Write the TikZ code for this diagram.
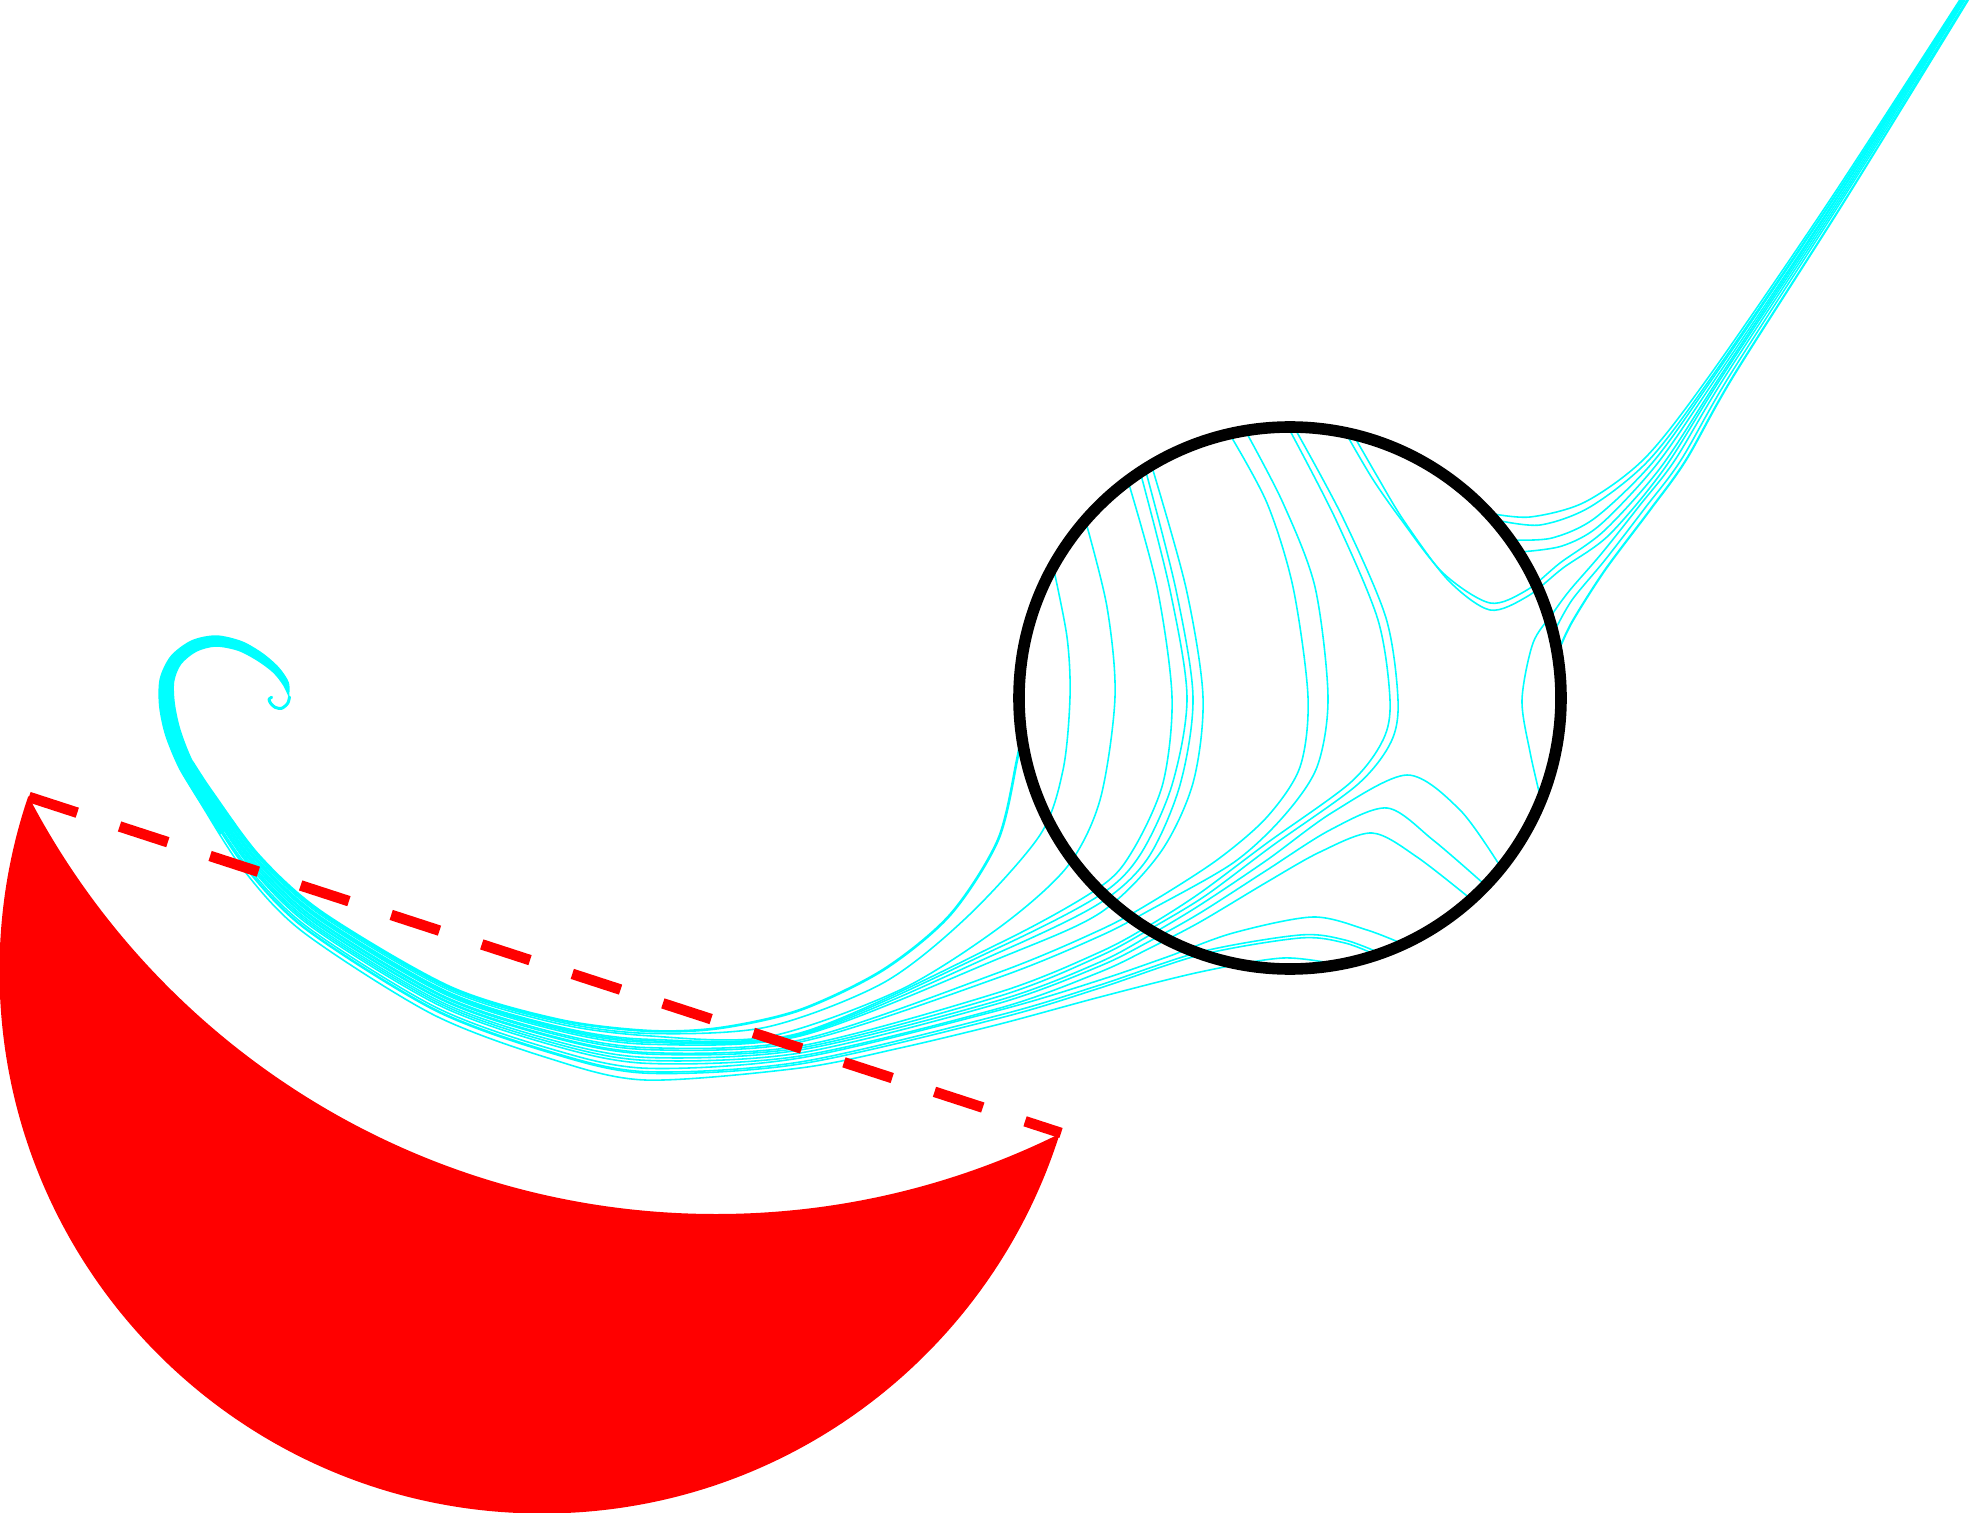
\documentclass[tikz,border=0pt]{standalone}
\usepackage{tikz}
\usetikzlibrary{calc}
\definecolor{flowcyan}{RGB}{0,255,255}
\definecolor{lunered}{RGB}{255,0,0}
\tikzset{
  stream/.style={flowcyan,line width=0.9pt,line cap=round,line join=round},
  thickstream/.style={stream,line width=1.5pt},
  hookstream/.style={stream,line width=1.7pt},
  lunefill/.style={fill=lunered,even odd rule},
  chorddash/.style={lunered,line width=6pt,dash pattern=on 28.9pt off 25.3pt},
  lensring/.style={draw=black,line width=6.6pt}
}
%% one streamline: leaves the spiral band at fraction #2, then runs through #3
\newcommand{\streamfrom}[3][stream]{%
  \draw[#1] plot[smooth] coordinates {($(in11)!#2!(out11)$) ($(in12)!#2!(out12)$)
    ($(in13)!#2!(out13)$) ($(in14)!#2!(out14)$) ($(in15)!#2!(out15)$)
    ($(in16)!#2!(out16)$) ($(in17)!#2!(out17)$) #3};}

\begin{document}
\begin{tikzpicture}[x=0.02cm,y=-0.02cm]
  \useasboundingbox (0,0) rectangle (1971,1513);

  %% red lune
  \coordinate (cornerL) at (29,797);
  \coordinate (cornerR) at (1061,1133);
  \begin{scope}
    \clip (542,971) circle[radius=542.5];
    \fill[lunefill] (-20,-20) rectangle (2000,1600) (716,439.6) circle[radius=774.4];
  \end{scope}

  %% spiral ribbon centre line
  \coordinate (sp1) at (289,698);   \coordinate (sp2) at (286,684);
  \coordinate (sp3) at (276,670);   \coordinate (sp4) at (260,657);
  \coordinate (sp5) at (240,646);   \coordinate (sp6) at (216,641);
  \coordinate (sp7) at (194,646);   \coordinate (sp8) at (176,660);
  \coordinate (sp9) at (167,680);   \coordinate (sp10) at (167,705);
  \coordinate (sp11) at (173,733);  \coordinate (sp12) at (186,765);
  \coordinate (sp13) at (206,797);  \coordinate (sp14) at (228,829);
  \coordinate (sp15) at (251.5,863);

  %% ribbon edges, half width growing away from the hook
  \foreach \k/\h in {2/0.065,3/0.08,4/0.095,5/0.105,6/0.115,7/0.125,8/0.135,
                     9/0.15,10/0.162,11/0.165,12/0.16,13/0.165,14/0.185}{
    \pgfmathtruncatemacro{\kprev}{\k-1}
    \pgfmathtruncatemacro{\knext}{\k+1}
    \coordinate (dir\k) at ($(sp\k)+(sp\knext)-(sp\kprev)$);
    \coordinate (rin\k) at ($(sp\k)!\h cm!90:(dir\k)$);
    \coordinate (rout\k) at ($(sp\k)!\h cm!-90:(dir\k)$);
  }

  %% band edges where the lines fan out
  \coordinate (in11) at (192.4,762.2); \coordinate (out11) at (179.6,767.8);
  \coordinate (in12) at (212.5,792.7); \coordinate (out12) at (199.5,801.3);
  \coordinate (in13) at (259.6,856.3); \coordinate (out13) at (243.4,869.7);
  \coordinate (in14) at (323,913);     \coordinate (out14) at (303,932);
  \coordinate (in15) at (450,987);     \coordinate (out15) at (432,1014);
  \coordinate (in16) at (560,1020);    \coordinate (out16) at (548,1058);
  \coordinate (in17) at (650,1031);    \coordinate (out17) at (645,1080);

  %% hook and ribbon
  \draw[hookstream] plot[smooth] coordinates {(271.7,697.3) (269,699.3) (270.7,703.3)
    (275,707.3) (281.7,708.3) (287.7,703.3) (289.5,697)};
  \fill[flowcyan] plot[smooth] coordinates {(sp1) (rout2) (rout3) (rout4) (rout5) (rout6)
      (rout7) (rout8) (rout9) (rout10) (rout11) (rout12) (rout13) (rout14)}
    -- plot[smooth] coordinates {(rin14) (rin13) (rin12) (rin11) (rin10) (rin9) (rin8)
      (rin7) (rin6) (rin5) (rin4) (rin3) (rin2) (sp1)} -- cycle;

  %% streamlines leaving the band
  \streamfrom[thickstream]{0}{(720,1028) (800,1010) (883,970) (950,915) (998,840) (1017,760) (1021,735)}
  \streamfrom{0.05}{(767,1027) (883,983) (967,917) (1040,835) (1063,770) (1070,697) (1067,637) (1053,566)}
  \streamfrom{0.10}{(767,1037) (900,990) (1000,927) (1067,867) (1100,800) (1115,697) (1107,607) (1085,519)}
  \streamfrom{0.17}{(800,1033) (1000,943) (1100,887) (1133,850) (1163,783) (1172,697) (1157,587) (1128,481)}
  \streamfrom{0.20}{(800,1034) (1000,947) (1100,895) (1140,855) (1172,785) (1187,697) (1170,590) (1141,475)}
  \streamfrom{0.23}{(800,1035) (1000,952) (1100,903) (1148,858) (1180,785) (1193,697) (1176,590) (1146,472)}
  \streamfrom{0.27}{(800,1036) (1000,958) (1100,913) (1160,853) (1193,783) (1203,697) (1186,588) (1152,467)}
  \streamfrom{0.34}{(800,1040) (1000,972) (1100,930) (1150,903) (1217,860) (1267,817) (1300,767) (1308,697) (1293,587) (1267,503) (1229,433)}
  \streamfrom{0.38}{(800,1042) (1000,977) (1100,936) (1150,910) (1233,863) (1283,817) (1317,767) (1328,697) (1315,587) (1283,503) (1245,430)}
  \streamfrom{0.44}{(800,1046) (1000,992) (1100,952) (1150,925) (1200,893) (1267,843) (1350,783) (1383,740) (1390,700) (1378,620) (1336,520) (1288,427)}
  \streamfrom{0.47}{(800,1048) (1000,996) (1100,956) (1150,929) (1205,896) (1272,846) (1357,785) (1391,742) (1398,700) (1386,618) (1343,518) (1294,427)}
  \streamfrom{0.54}{(800,1050) (1000,1000) (1100,962) (1150,935) (1200,905) (1267,860) (1333,812) (1407,775) (1460,810) (1500,866)}
  \streamfrom{0.60}{(800,1053) (1000,1003) (1100,966) (1150,941) (1200,913) (1267,870) (1330,830) (1387,808) (1433,840) (1484,884)}
  \streamfrom{0.66}{(800,1056) (1000,1008) (1100,972) (1150,948) (1200,922) (1267,882) (1320,852) (1372,833) (1417,857) (1472,900)}
  \streamfrom{0.76}{(800,1058) (1000,1010) (1100,980) (1167,957) (1233,933) (1313,917) (1367,930) (1403,944)}
  \streamfrom{0.83}{(800,1062) (1000,1015) (1100,985) (1200,952) (1300,935) (1345,940) (1382,954)}
  \streamfrom{0.86}{(800,1064) (1000,1018) (1100,988) (1200,955) (1300,938) (1345,943) (1376,955)}
  \streamfrom{1}{(800,1068) (900,1048) (1000,1024) (1100,997) (1200,972) (1283,958) (1340,965)}

  %% streamlines running off to the upper right
  \draw[stream] plot[smooth] coordinates {(1488,513) (1530,517) (1585,502) (1645,458) (1710,375) (1830,200) (1963,-5)};
  \draw[stream] plot[smooth] coordinates {(1496,520) (1540,525) (1590,507) (1649,460) (1713,375) (1832,200) (1964,-5)};
  \draw[stream] plot[smooth] coordinates {(1512,540) (1552,538) (1595,518) (1653,462) (1715,375) (1833,200) (1965,-5)};
  \draw[stream] plot[smooth] coordinates {(1520,552) (1562,546) (1600,525) (1657,464) (1718,375) (1835,200) (1965,-5)};
  \draw[stream] plot[smooth] coordinates {(1344,430) (1372,478) (1400,518) (1443,573) (1490,603) (1527,590) (1560,563) (1605,530) (1661,467) (1721,375) (1836,200) (1966,-5)};
  \draw[stream] plot[smooth] coordinates {(1350,429) (1377,476) (1404,521) (1448,580) (1490,610) (1528,596) (1563,568) (1609,535) (1664,469) (1723,375) (1838,200) (1967,-5)};
  \draw[stream] plot[smooth] coordinates {(1541,800) (1530,752) (1522,700) (1533,643) (1553,613) (1570,590) (1602,553) (1640,505) (1675,460) (1726,375) (1840,200) (1968,-5)};
  \draw[stream] plot[smooth] coordinates {(1554,632) (1572,600) (1605,560) (1645,508) (1681,460) (1730,375) (1842,200) (1970,-5)};
  \draw[stream,line width=1.2pt] plot[smooth] coordinates {(1558,652) (1572,622) (1605,570) (1650,510) (1686,460) (1734,375) (1845,200) (1971,-5)};

  %% lens circle
  \draw[lensring] (1290,698) circle[radius=271];

  %% dashed chord
  \draw[chorddash] (cornerL) -- (cornerR);
\end{tikzpicture}
\end{document}
